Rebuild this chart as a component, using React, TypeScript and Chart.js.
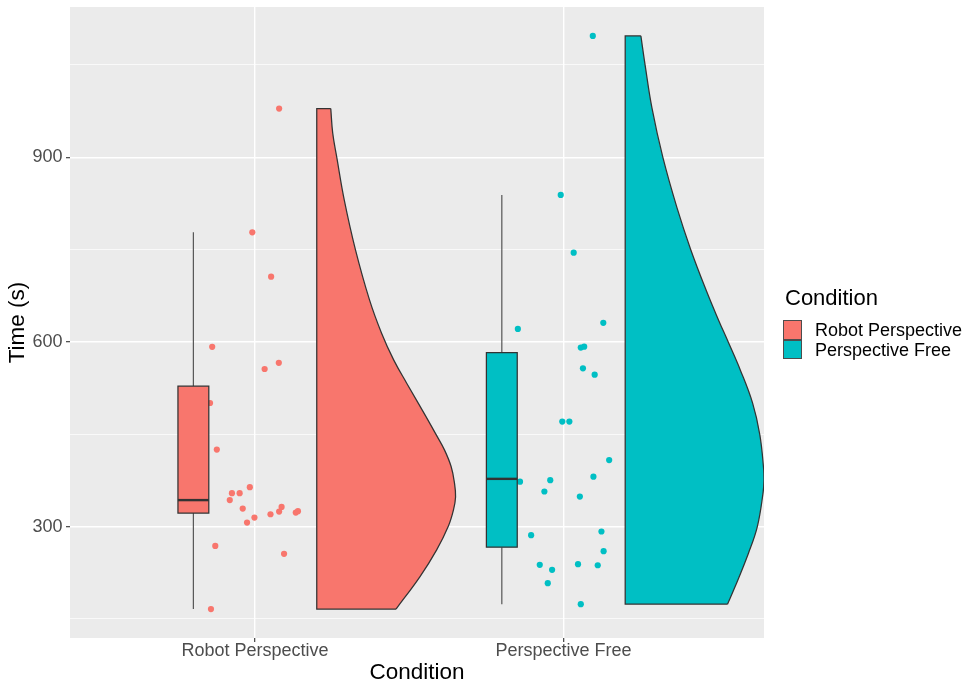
import { useEffect, useRef } from 'react';
import { Chart, registerables } from 'chart.js';

Chart.register(...registerables);

// Conditions on the x axis, in plotting order
const CATEGORIES = ['Robot Perspective', 'Perspective Free'];
const FILL_COLORS = ['#F8766D', '#00BFC4'];

const X_TITLE = 'Condition';
const Y_TITLE = 'Time (s)';
const LEGEND_TITLE = 'Condition';

// y axis breaks (seconds)
const Y_MAJOR_TICKS = [300, 600, 900];
const Y_MINOR_TICKS = [150, 450, 750, 1050];
const Y_LIMITS = [119, 1144];
const X_LIMITS = [0.4, 2.65];

// Completion times (s) with their horizontal jitter around the condition
const ROBOT_TIMES = [979, 778, 706, 592, 556, 566, 500.7, 425, 364, 354.3, 354.3, 343, 329.3, 306.5, 314.6, 320, 324.4, 332, 322.7, 325, 268.6, 255.7, 166];
const ROBOT_JITTER = [0.078, -0.009, 0.052, -0.139, 0.031, 0.077, -0.146, -0.124, -0.017, -0.075, -0.05, -0.082, -0.04, -0.026, -0.002, 0.05, 0.078, 0.086, 0.132, 0.139, -0.129, 0.094, -0.143];
const FREE_TIMES = [1097, 838.8, 745, 631, 621, 590.7, 592.3, 557, 546.7, 470.5, 470.5, 408, 381, 373, 375.4, 357, 348.7, 292, 286, 260, 237.8, 229.7, 238.9, 237.2, 208, 174];
const FREE_JITTER = [0.095, -0.009, 0.033, 0.129, -0.148, 0.056, 0.067, 0.063, 0.101, -0.004, 0.019, 0.148, 0.097, -0.141, -0.043, -0.062, 0.053, 0.123, -0.105, 0.13, -0.077, -0.037, 0.047, 0.111, -0.051, 0.056];

// Boxplot summaries: lower whisker, Q1, median, Q3, upper whisker
const ROBOT_BOX = [166, 322, 343, 528, 778];
const FREE_BOX = [174, 266.5, 377.5, 582.5, 838.8];

// Half-violin profiles: time levels (top to bottom) and scaled density (1 = widest)
const ROBOT_LEVELS = [979, 939, 900, 830.6, 749.4, 668.2, 614.1, 570.8, 532.9, 478.7, 449, 424.6, 397.5, 371, 348, 327.2, 300, 262.2, 218.8, 166];
const ROBOT_DENSITY = [0.101, 0.115, 0.144, 0.198, 0.279, 0.38, 0.467, 0.554, 0.648, 0.787, 0.861, 0.92, 0.968, 0.992, 1.0, 0.985, 0.947, 0.864, 0.744, 0.571];
const FREE_LEVELS = [1097, 1048.8, 979.6, 900, 817.2, 750.6, 681.7, 635.7, 598.9, 554.5, 500.5, 449, 392.1, 375.8, 354.3, 300, 256.8, 202.5, 174];
const FREE_DENSITY = [0.113, 0.144, 0.193, 0.271, 0.374, 0.471, 0.587, 0.672, 0.744, 0.829, 0.918, 0.97, 0.998, 1.0, 0.993, 0.952, 0.888, 0.792, 0.737];

// Geometry of the raincloud pieces, in x-axis units relative to each condition
const BOX_SHIFT = -0.2;
const BOX_HALF_WIDTH = 0.05;
const VIOLIN_SHIFT = 0.2;
const VIOLIN_MAX_WIDTH = 0.45;

const OUTLINE = '#333333';
const FONT = '"Liberation Sans", Arial, Helvetica, sans-serif';

function violinDatasets(center: number, levels: number[], density: number[], color: string) {
  const x0 = center + VIOLIN_SHIFT;
  const curve = levels.map((y, i) => ({ x: x0 + density[i] * VIOLIN_MAX_WIDTH, y }));
  const top = levels[0];
  const bottom = levels[levels.length - 1];
  return [
    {
      // density side, filled back to the violin's flat edge
      type: 'line',
      indexAxis: 'y',
      data: curve,
      fill: { value: x0 },
      backgroundColor: color,
      borderColor: OUTLINE,
      borderWidth: 1.25,
      pointRadius: 0,
      tension: 0.4,
      order: 6,
    },
    {
      // flat top, straight edge and flat bottom
      type: 'line',
      data: [curve[0], { x: x0, y: top }, { x: x0, y: bottom }, curve[curve.length - 1]],
      fill: false,
      borderColor: OUTLINE,
      borderWidth: 1.25,
      pointRadius: 0,
      order: 5,
    },
  ];
}

function pointDataset(center: number, times: number[], jitter: number[], color: string) {
  return {
    type: 'scatter',
    data: times.map((t, i) => ({ x: center + jitter[i], y: t })),
    backgroundColor: color,
    pointRadius: 3.1,
    pointBorderWidth: 0,
    pointHoverRadius: 3.1,
    order: 4,
  };
}

function boxDatasets(center: number, stats: number[], color: string) {
  const [lo, q1, med, q3, hi] = stats;
  const c = center + BOX_SHIFT;
  const l = c - BOX_HALF_WIDTH;
  const r = c + BOX_HALF_WIDTH;
  const line = { type: 'line', fill: false, pointRadius: 0, borderColor: OUTLINE };
  return [
    { ...line, data: [{ x: c, y: q3 }, { x: c, y: hi }], borderColor: '#555555', borderWidth: 1.2, order: 3 },
    { ...line, data: [{ x: c, y: lo }, { x: c, y: q1 }], borderColor: '#555555', borderWidth: 1.2, order: 3 },
    {
      ...line,
      data: [
        { x: l, y: q1 },
        { x: l, y: q3 },
        { x: r, y: q3 },
        { x: r, y: q1 },
        { x: l, y: q1 },
        { x: l, y: q3 },
      ],
      fill: 'shape',
      backgroundColor: color,
      borderWidth: 1.25,
      order: 2,
    },
    { ...line, data: [{ x: l, y: med }, { x: r, y: med }], borderWidth: 2.4, order: 1 },
  ];
}

const panelBackground = {
  id: 'panelBackground',
  beforeDraw(chart: any) {
    const { ctx, chartArea: a } = chart;
    ctx.save();
    ctx.fillStyle = '#EBEBEB';
    ctx.fillRect(a.left, a.top, a.right - a.left, a.bottom - a.top);
    ctx.restore();
  },
};

export default function App() {
  const canvasRef = useRef<HTMLCanvasElement | null>(null);

  useEffect(() => {
    const canvas = canvasRef.current;
    if (!canvas) return;

    const datasets: any[] = [
      ...violinDatasets(1, ROBOT_LEVELS, ROBOT_DENSITY, FILL_COLORS[0]),
      ...violinDatasets(2, FREE_LEVELS, FREE_DENSITY, FILL_COLORS[1]),
      pointDataset(1, ROBOT_TIMES, ROBOT_JITTER, FILL_COLORS[0]),
      pointDataset(2, FREE_TIMES, FREE_JITTER, FILL_COLORS[1]),
      ...boxDatasets(1, ROBOT_BOX, FILL_COLORS[0]),
      ...boxDatasets(2, FREE_BOX, FILL_COLORS[1]),
    ];

    const yTicks = [...Y_MINOR_TICKS, ...Y_MAJOR_TICKS].sort((a, b) => a - b);
    const isMajor = (v: number) => Y_MAJOR_TICKS.includes(v);

    const chart = new Chart(canvas, {
      type: 'scatter',
      data: { datasets },
      plugins: [panelBackground],
      options: {
        animation: false,
        responsive: false,
        maintainAspectRatio: false,
        devicePixelRatio: 1,
        events: [],
        layout: { padding: { left: 0, top: 7, right: 207, bottom: 0 } },
        plugins: {
          legend: { display: false },
          tooltip: { enabled: false },
        },
        scales: {
          x: {
            type: 'linear',
            min: X_LIMITS[0],
            max: X_LIMITS[1],
            afterBuildTicks: (scale: any) => {
              scale.ticks = CATEGORIES.map((_, i) => ({ value: i + 1 }));
            },
            afterFit: (scale: any) => {
              scale.height = 49;
              scale.paddingLeft = 0;
              scale.paddingRight = 0;
            },
            ticks: {
              autoSkip: false,
              maxRotation: 0,
              padding: 0,
              color: '#4D4D4D',
              font: { family: FONT, size: 18, lineHeight: 1 },
              callback: (v: any) => CATEGORIES[Math.round(Number(v)) - 1] ?? '',
            },
            grid: {
              color: '#FFFFFF',
              lineWidth: 1.4,
              tickColor: OUTLINE,
              tickLength: 4,
              tickWidth: 1.1,
            },
            border: { display: false },
            title: {
              display: true,
              text: X_TITLE,
              color: '#000000',
              font: { family: FONT, size: 22.5, lineHeight: 1.2 },
              padding: { top: 0, bottom: 1 },
            },
          },
          y: {
            type: 'linear',
            min: Y_LIMITS[0],
            max: Y_LIMITS[1],
            afterBuildTicks: (scale: any) => {
              scale.ticks = yTicks.map((value) => ({ value }));
            },
            afterFit: (scale: any) => {
              scale.width = 70;
              scale.paddingTop = 0;
              scale.paddingBottom = 0;
            },
            ticks: {
              autoSkip: false,
              padding: 3.5,
              color: '#4D4D4D',
              font: { family: FONT, size: 18, lineHeight: 1 },
              callback: (v: any) => (isMajor(Number(v)) ? String(v) : ''),
            },
            grid: {
              color: '#FFFFFF',
              lineWidth: (ctx: any) => (ctx.tick && isMajor(ctx.tick.value) ? 1.4 : 0.7),
              tickColor: (ctx: any) => (ctx.tick && isMajor(ctx.tick.value) ? OUTLINE : 'rgba(0,0,0,0)'),
              tickLength: 4,
              tickWidth: 1.1,
            },
            border: { display: false },
            title: {
              display: true,
              text: Y_TITLE,
              color: '#000000',
              font: { family: FONT, size: 22.5, lineHeight: 1.2 },
              padding: { top: 4, bottom: 0 },
            },
          },
        },
      } as any,
    } as any);

    return () => chart.destroy();
  }, []);

  return (
    <div
      style={{
        position: 'fixed',
        left: 0,
        top: 0,
        width: 971,
        height: 687,
        background: '#FFFFFF',
        fontFamily: FONT,
        overflow: 'hidden',
      }}
    >
      <canvas ref={canvasRef} width={971} height={687} style={{ display: 'block', width: 971, height: 687 }} />
      <div
        style={{
          position: 'absolute',
          left: 785,
          top: 287,
          fontSize: 22,
          lineHeight: 1,
          color: '#000000',
          whiteSpace: 'nowrap',
        }}
      >
        {LEGEND_TITLE}
      </div>
      {CATEGORIES.map((name, i) => (
        <div key={name}>
          <div
            style={{
              position: 'absolute',
              left: 783,
              top: 320 + i * 19.5,
              width: 19,
              height: 19.5,
              boxSizing: 'border-box',
              border: '1px solid #4D4D4D',
              background: FILL_COLORS[i],
            }}
          />
          <div
            style={{
              position: 'absolute',
              left: 815,
              top: 321 + i * 19.5,
              height: 19,
              fontSize: 18,
              lineHeight: '19px',
              color: '#000000',
              whiteSpace: 'nowrap',
            }}
          >
            {name}
          </div>
        </div>
      ))}
    </div>
  );
}
